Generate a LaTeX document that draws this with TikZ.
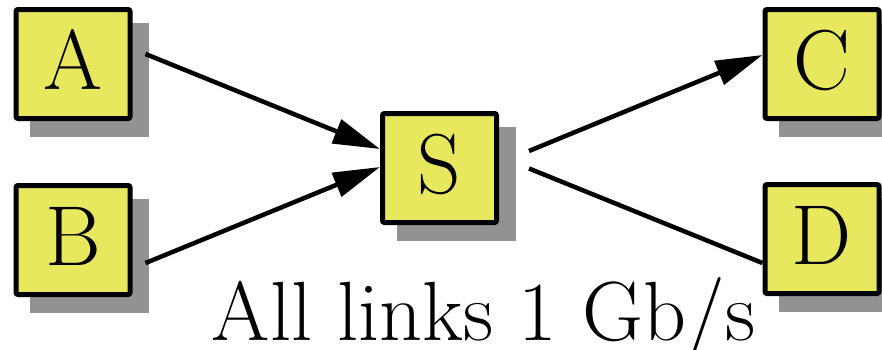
\documentclass[tikz,border=0pt]{standalone}
\usetikzlibrary{calc,arrows.meta}

\definecolor{boxfill}{HTML}{E8E85E}
\definecolor{shadowgrey}{HTML}{929292}

\tikzset{
  netbox/.style={draw=black, fill=boxfill, line width=5pt, rounded corners=2pt,
    minimum width=114pt, minimum height=109pt, inner sep=0pt,
    font=\fontsize{85pt}{90pt}\selectfont, text height=60pt, text depth=10pt},
  boxshadow/.style={fill=shadowgrey, draw=none, minimum width=119pt,
    minimum height=114pt, inner sep=0pt, outer sep=0pt},
  link/.style={line width=4.5pt, line cap=butt},
  flow/.style={link, -{Triangle[length=47pt, width=25pt]}},
  caption/.style={font=\fontsize{84pt}{90pt}\selectfont, inner sep=0pt, anchor=base}
}

\begin{document}
\begin{tikzpicture}[x=1pt, y=-1pt]
  \useasboundingbox (0,0) rectangle (882,349);

  % drop shadows, offset down and right
  \node[boxshadow] (Ash) at (89,80) {};
  \node[boxshadow] (Bsh) at (89,256) {};
  \node[boxshadow] (Ssh) at (456,184) {};
  \node[boxshadow] (Csh) at (838,80) {};
  \node[boxshadow] (Dsh) at (838,255) {};

  % hosts and the switch
  \node[netbox] (A) at (73,64) {A};
  \node[netbox] (B) at (73,240) {B};
  \node[netbox] (S) at (439.5,168) {S};
  \node[netbox] (C) at (822,64) {C};
  \node[netbox] (D) at (822,239) {D};

  % links
  \draw[flow] ($(A.east)+(13,-10)$) -- ($(S.west)+(0,-19)$);
  \draw[flow] ($(B.east)+(13,23)$) -- ($(S.west)+(0,-1)$);
  \draw[flow] ($(S.east)+(30,-17)$) -- ($(C.west)+(0,-9)$);
  \draw[link] ($(S.east)+(30,0.5)$) -- ($(D.west)+(0,24)$);

  \node[caption] (cap) at (483.5,340) {All links 1 Gb/s};
\end{tikzpicture}
\end{document}
